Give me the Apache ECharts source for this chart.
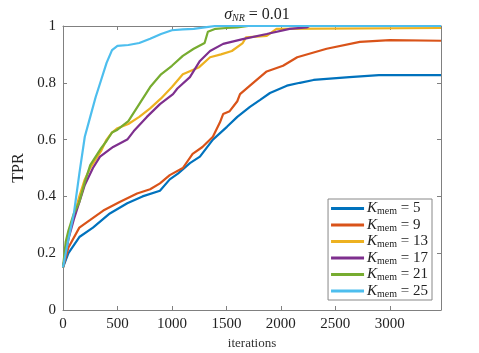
<!DOCTYPE html>
<html lang="en">
<head>
  <meta charset="UTF-8">
  <title>TPR vs iterations</title>
  <style>
    html, body { margin: 0; padding: 0; background: #fff; }
    #chart { width: 479px; height: 353px; }
  </style>
</head>
<body>
  <div id="chart"></div>
  <script src="https://cdn.jsdelivr.net/npm/echarts@6/dist/echarts.min.js"></script>
  <script>
    // data (iterations, TPR)
    var xTicks = [0, 500, 1000, 1500, 2000, 2500, 3000];
    var yTicks = [0, 0.2, 0.4, 0.6, 0.8, 1];
    var kValues = [5, 9, 13, 17, 21, 25];

    var k5Iter = [0, 50, 150, 275, 430, 590, 730, 890, 980, 1055, 1165, 1257, 1376, 1505, 1600, 1716, 1810, 1900, 2055, 2174, 2300, 2630, 2900, 3470];
    var k5Tpr = [0.15, 0.20, 0.257, 0.29, 0.34, 0.376, 0.40, 0.42, 0.46, 0.48, 0.517, 0.54, 0.60, 0.645, 0.68, 0.715, 0.74, 0.764, 0.79, 0.80, 0.81, 0.82, 0.827, 0.827];

    var k9Iter = [0, 50, 150, 250, 370, 520, 680, 800, 890, 980, 1100, 1190, 1280, 1376, 1440, 1470, 1530, 1600, 1625, 1716, 1870, 2020, 2150, 2420, 2725, 3000, 3470];
    var k9Tpr = [0.15, 0.22, 0.29, 0.317, 0.35, 0.38, 0.41, 0.425, 0.446, 0.475, 0.50, 0.55, 0.574, 0.61, 0.66, 0.69, 0.70, 0.735, 0.76, 0.79, 0.84, 0.86, 0.89, 0.92, 0.944, 0.95, 0.948];

    var k13Iter = [0, 50, 100, 150, 200, 250, 300, 350, 400, 450, 500, 600, 700, 800, 900, 1000, 1100, 1250, 1350, 1450, 1550, 1650, 1680, 1870, 1960, 3470];
    var k13Tpr = [0.15, 0.26, 0.33, 0.40, 0.46, 0.50, 0.53, 0.56, 0.60, 0.625, 0.64, 0.655, 0.68, 0.71, 0.745, 0.785, 0.83, 0.855, 0.89, 0.90, 0.912, 0.94, 0.96, 0.965, 0.99, 0.993];

    var k17Iter = [0, 50, 100, 150, 200, 275, 340, 460, 590, 650, 770, 890, 1010, 1050, 1165, 1257, 1350, 1470, 1650, 1870, 2080, 2240, 2260, 3470];
    var k17Tpr = [0.15, 0.25, 0.32, 0.38, 0.44, 0.50, 0.54, 0.574, 0.60, 0.63, 0.68, 0.725, 0.76, 0.78, 0.82, 0.877, 0.912, 0.937, 0.954, 0.972, 0.99, 0.995, 1.0, 1.0];

    var k21Iter = [0, 25, 50, 100, 150, 200, 250, 300, 350, 400, 450, 500, 600, 700, 800, 900, 1000, 1100, 1200, 1300, 1330, 1400, 1500, 1600, 1700, 3470];
    var k21Tpr = [0.15, 0.24, 0.28, 0.34, 0.38, 0.45, 0.51, 0.54, 0.57, 0.595, 0.625, 0.635, 0.665, 0.725, 0.785, 0.83, 0.86, 0.895, 0.92, 0.94, 0.98, 0.99, 0.993, 0.995, 1.0, 1.0];

    var k25Iter = [0, 25, 50, 100, 150, 200, 250, 300, 350, 400, 450, 500, 600, 700, 800, 900, 1000, 1100, 1200, 1300, 1400, 3470];
    var k25Tpr = [0.15, 0.20, 0.25, 0.34, 0.48, 0.61, 0.68, 0.75, 0.81, 0.87, 0.915, 0.93, 0.933, 0.94, 0.955, 0.972, 0.985, 0.988, 0.99, 0.995, 1.0, 1.0];

    var iterSets = [k5Iter, k9Iter, k13Iter, k17Iter, k21Iter, k25Iter];
    var tprSets = [k5Tpr, k9Tpr, k13Tpr, k17Tpr, k21Tpr, k25Tpr];
    var colors = ['#0072BD', '#D95319', '#EDB120', '#7E2F8E', '#77AC30', '#4DBEEE'];

    var serif = 'Liberation Serif';
    var axisGray = '#808080';
    var xMax = 3470;

    function pairs(xs, ys) {
      var out = [];
      for (var i = 0; i < xs.length; i++) out.push([xs[i], ys[i]]);
      return out;
    }

    var series = [];
    for (var i = 0; i < kValues.length; i++) {
      series.push({
        name: 'K' + kValues[i],
        type: 'line',
        showSymbol: false,
        symbol: 'none',
        lineStyle: { width: 2.2, color: colors[i] },
        itemStyle: { color: colors[i] },
        data: pairs(iterSets[i], tprSets[i])
      });
    }

    // plain box axis used for top and right edges
    function boxAxis(pos, max, interval) {
      return {
        type: 'value',
        position: pos,
        min: 0,
        max: max,
        interval: interval,
        axisLine: { show: true, onZero: false, lineStyle: { color: axisGray } },
        axisTick: { show: true, inside: true, length: 4, lineStyle: { color: axisGray } },
        axisLabel: { show: false },
        splitLine: { show: false }
      };
    }

    var chart = echarts.init(document.getElementById('chart'));
    chart.setOption({
      animation: false,
      color: colors,
      title: {
        text: '{s|σ}{sub|NR}{n| = 0.01}',
        left: 252,
        textAlign: 'center',
        top: 1,
        textStyle: {
          fontWeight: 'normal',
          rich: {
            s: { fontFamily: serif, fontStyle: 'italic', fontWeight: 'normal', fontSize: 16, color: '#222' },
            sub: { fontFamily: serif, fontStyle: 'italic', fontWeight: 'normal', fontSize: 10, color: '#222', padding: [7, 0, 0, 0] },
            n: { fontFamily: serif, fontWeight: 'normal', fontSize: 16, color: '#222' }
          }
        }
      },
      grid: { left: 63, right: 38, top: 26, bottom: 43, outerBoundsMode: 'none', containLabel: false },
      legend: {
        orient: 'vertical',
        right: 47,
        bottom: 53,
        itemWidth: 33,
        itemHeight: 3,
        itemGap: 1,
        padding: [2, 4, 1, 3],
        backgroundColor: '#fff',
        borderColor: '#888',
        borderWidth: 1,
        borderRadius: 0,
        icon: 'rect',
        data: kValues.map(function (k) { return 'K' + k; }),
        formatter: function (name) {
          return '{k|K}{m|mem}{n| = ' + name.slice(1) + '}';
        },
        textStyle: {
          padding: [0, 0, 0, -2],
          rich: {
            k: { fontFamily: serif, fontStyle: 'italic', fontSize: 15, color: '#222' },
            m: { fontFamily: serif, fontSize: 10, color: '#222', padding: [6, 0, 0, 0] },
            n: { fontFamily: serif, fontSize: 15, color: '#222' }
          }
        }
      },
      xAxis: [{
        type: 'value',
        min: 0,
        max: xMax,
        interval: 500,
        name: 'iterations',
        nameLocation: 'middle',
        nameGap: 26,
        nameTextStyle: { fontFamily: serif, fontSize: 13, color: '#333' },
        axisLine: { show: true, onZero: false, lineStyle: { color: axisGray } },
        axisTick: { show: true, inside: true, length: 4, lineStyle: { color: axisGray } },
        splitLine: { show: false },
        axisLabel: {
          fontFamily: serif, fontSize: 15, color: '#222', margin: 7,
          formatter: function (v) { return xTicks.indexOf(v) >= 0 ? String(v) : ''; }
        }
      }, boxAxis('top', xMax, 500)],
      yAxis: [{
        type: 'value',
        min: 0,
        max: 1,
        interval: 0.2,
        name: 'TPR',
        nameLocation: 'middle',
        nameGap: 31,
        nameTextStyle: { fontFamily: serif, fontSize: 16, color: '#222' },
        axisLine: { show: true, onZero: false, lineStyle: { color: axisGray } },
        axisTick: { show: true, inside: true, length: 4, lineStyle: { color: axisGray } },
        splitLine: { show: false },
        axisLabel: {
          fontFamily: serif, fontSize: 15, color: '#222', margin: 7,
          formatter: function (v) {
            for (var j = 0; j < yTicks.length; j++) {
              if (Math.abs(yTicks[j] - v) < 1e-9) return String(yTicks[j]);
            }
            return '';
          }
        }
      }, boxAxis('right', 1, 0.2)],
      series: series
    });
  </script>
</body>
</html>
